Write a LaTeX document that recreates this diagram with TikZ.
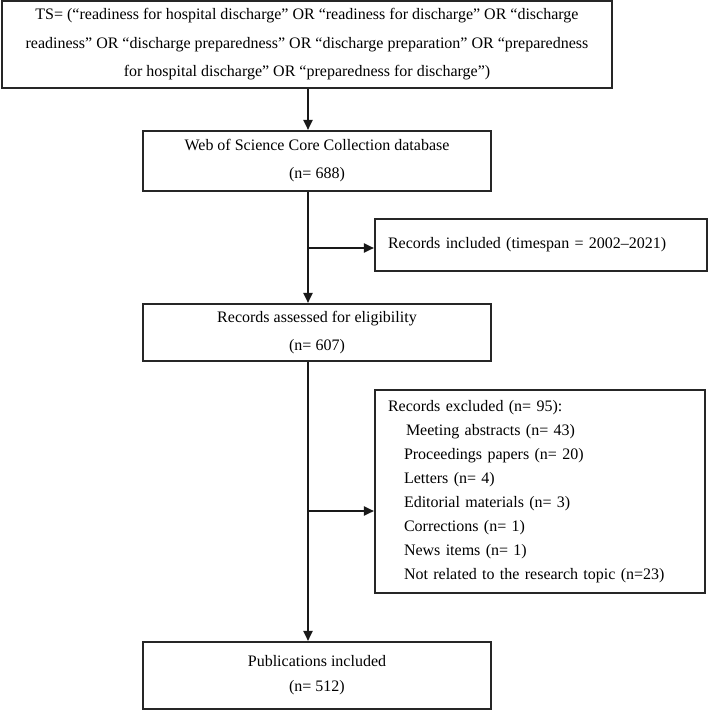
\documentclass[tikz,border=0pt]{standalone}
\usepackage{fontspec}
\setmainfont{Liberation Serif}
\usetikzlibrary{arrows.meta}
\tikzset{
  box/.style={draw=black!85, line width=2.1pt, rectangle, inner sep=0pt, font=\fontsize{16}{28.5}\selectfont},
  arr/.style={draw=black!90, line width=1.9pt, -{Triangle[length=10pt,width=9pt]}},
}
\begin{document}
\begin{tikzpicture}[x=1pt,y=-1pt]
\useasboundingbox (0,0) rectangle (709,712);
\node[box, minimum width=610pt, minimum height=87pt, align=center] (top) at (307,44.5)
 {TS= (“readiness for hospital discharge” OR “readiness for discharge” OR “discharge\\
  readiness” OR “discharge preparedness” OR “discharge preparation” OR “preparedness\\
  for hospital discharge” OR “preparedness for discharge”)};
\node[box, minimum width=348pt, minimum height=60pt, align=center,
      font=\fontsize{16}{28}\selectfont] (wos) at (317,161)
 {Web of Science Core Collection database\\(n= 688)};
\node[box, minimum width=332pt, minimum height=52pt, align=left, text width=306pt] (inc) at (541,245)
 {Records included (timespan = 2002–2021)};
\node[box, minimum width=348pt, minimum height=57pt, align=center,
      font=\fontsize{16}{28}\selectfont] (ass) at (317,332.5)
 {Records assessed for eligibility\\(n= 607)};
\node[box, minimum width=330pt, minimum height=203pt, align=left, text width=304pt,
      font=\fontsize{16}{24}\selectfont] (exc) at (540,491.5)
 {Records excluded (n= 95):\\
  \hspace*{18pt}Meeting abstracts (n= 43)\\
  \hspace*{16pt}Proceedings papers (n= 20)\\
  \hspace*{16pt}Letters (n= 4)\\
  \hspace*{16pt}Editorial materials (n= 3)\\
  \hspace*{16pt}Corrections (n= 1)\\
  \hspace*{16pt}News items (n= 1)\\
  \hspace*{16pt}Not related to the research topic (n=23)};
\node[box, minimum width=348pt, minimum height=67pt, align=center,
      font=\fontsize{16}{25}\selectfont] (pub) at (317,675.5)
 {Publications included\\(n= 512)};
\coordinate (main) at (308,0);
\coordinate (b1) at (308,248);
\coordinate (b2) at (308,511);
\draw[arr] (top.south -| main) -- (wos.north -| main);
\draw[arr] (wos.south -| main) -- (ass.north -| main);
\draw[arr] (b1) -- (b1 -| inc.west);
\draw[arr] (ass.south -| main) -- (pub.north -| main);
\draw[arr] (b2) -- (b2 -| exc.west);
\end{tikzpicture}
\end{document}
